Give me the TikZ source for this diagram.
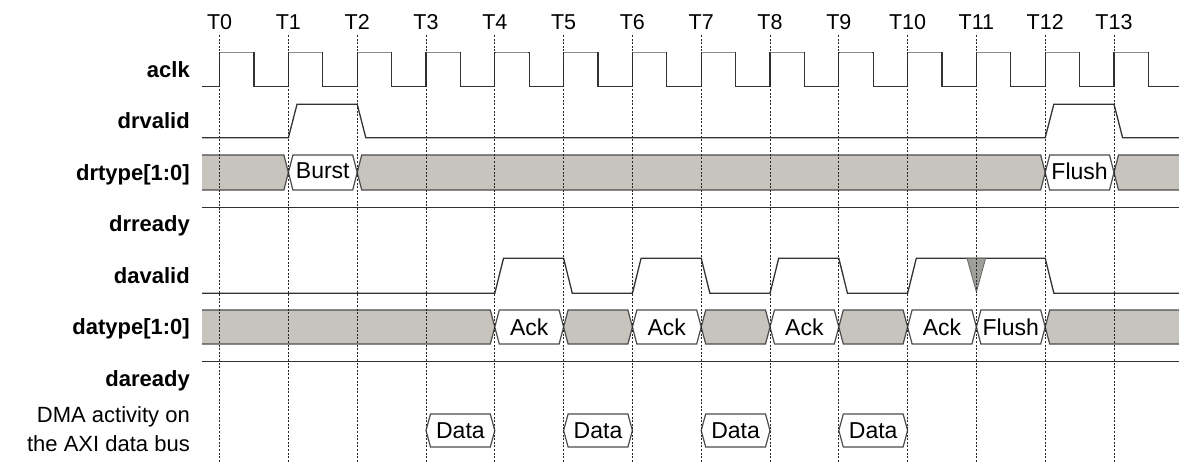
\documentclass[tikz,border=0pt]{standalone}
\usepackage{fontspec}
\setmainfont{Liberation Sans}
\definecolor{busgray}{RGB}{199,195,189}
\definecolor{trigray}{RGB}{160,158,154}
\newcommand\tdhex[5]{%
  \filldraw[busline,fill=#5] (#1,{(#3+#4)/2}) -- ({#1+4.5},#3) -- ({#2-4.5},#3) -- (#2,{(#3+#4)/2}) -- ({#2-4.5},#4) -- ({#1+4.5},#4) -- cycle;}
\newcommand\tdbusbegin[3]{%
  \fill[busgray] (202,#2) -- ({#1-4.5},#2) -- (#1,{(#2+#3)/2}) -- ({#1-4.5},#3) -- (202,#3) -- cycle;
  \draw[busline] (202,#2) -- ({#1-4.5},#2) -- (#1,{(#2+#3)/2}) -- ({#1-4.5},#3) -- (202,#3);}
\newcommand\tdbusfinish[3]{%
  \fill[busgray] (1179,#2) -- ({#1+4.5},#2) -- (#1,{(#2+#3)/2}) -- ({#1+4.5},#3) -- (1179,#3) -- cycle;
  \draw[busline] (1179,#2) -- ({#1+4.5},#2) -- (#1,{(#2+#3)/2}) -- ({#1+4.5},#3) -- (1179,#3);}
\begin{document}
\begin{tikzpicture}[x=1pt,y=-1pt,
  sig/.style={line width=1.3pt, draw=black!80, line join=miter},
  sighi/.style={line width=1.3pt, draw=black!45},
  busline/.style={line width=1.2pt, draw=black!70},
  tickline/.style={dash pattern=on 2pt off 1.6pt, line width=0.9pt, draw=black!85},
  lbl/.style={font=\fontsize{22}{26}\selectfont\bfseries, anchor=base east, inner sep=0pt},
  dmalbl/.style={font=\fontsize{22}{26}\selectfont, anchor=base east, inner sep=0pt},
  tlbl/.style={font=\fontsize{21.5}{26}\selectfont, anchor=base, inner sep=0pt},
  boxtxt/.style={font=\fontsize{23}{26}\selectfont, inner sep=0pt}]
\useasboundingbox (0,0) rectangle (1179,463);

% signal labels
\node[lbl] (laclk) at (190,77) {aclk};
\node[lbl] (ldrvalid) at (190,128.5) {drvalid};
\node[lbl] (ldrtype) at (190,180) {drtype[1:0]};
\node[lbl] (ldrready) at (190,231.5) {drready};
\node[lbl] (ldavalid) at (190,283) {davalid};
\node[lbl] (ldatype) at (190,334.5) {datype[1:0]};
\node[lbl] (ldaready) at (190,386) {daready};
\node[dmalbl] (ldma1) at (190,422.5) {DMA activity on};
\node[dmalbl] (ldma2) at (190,451.5) {the AXI data bus};

% clock
\draw[sig] (202,86.7) \foreach \k in {0,...,13} { -- ({219.6+68.8*\k},86.7) -- ({219.6+68.8*\k},52.3) -- ({254+68.8*\k},52.3) -- ({254+68.8*\k},86.7) } -- (1179,86.7);
\foreach \k in {0,...,13} \draw[sighi] ({220.4+68.8*\k},52.3) -- ({253.2+68.8*\k},52.3);

% drvalid
\draw[sig] (202,137.7) -- (288.4,137.7) -- (297,104.3) -- (357.2,104.3) -- (365.8,137.7) -- (1045.2,137.7) -- (1053.8,104.3) -- (1114,104.3) -- (1122.6,137.7) -- (1179,137.7);

% drtype bus
\tdbusbegin{288.4}{155}{190}
\tdhex{288.4}{357.2}{155}{190}{white}
\tdhex{357.2}{1045.2}{155}{190}{busgray}
\tdhex{1045.2}{1114}{155}{190}{white}
\tdbusfinish{1114}{155}{190}
\node[boxtxt] (burst) at (322.8,171) {Burst};
\node[boxtxt] (flushr) at (1079.6,171) {Flush};

% drready
\draw[sig] (202,207.7) -- (1179,207.7);

% davalid
\draw[sig] (202,293.3) -- (494.8,293.3) -- (503.5,258.3) -- (563.6,258.3) -- (572.3,293.3) -- (632.4,293.3) -- (641.1,258.3) -- (701.2,258.3) -- (709.9,293.3) -- (770,293.3) -- (778.7,258.3) -- (838.8,258.3) -- (847.5,293.3) -- (907.6,293.3) -- (916.3,258.3) -- (1045.2,258.3) -- (1053.9,293.3) -- (1179,293.3);
\filldraw[fill=trigray, draw=black!60, line width=0.8pt] (967,258.3) -- (985.6,258.3) -- (976.4,292) -- cycle;

% datype bus
\tdbusbegin{494.8}{310}{344}
\tdhex{494.8}{563.6}{310}{344}{white}
\tdhex{563.6}{632.4}{310}{344}{busgray}
\tdhex{632.4}{701.2}{310}{344}{white}
\tdhex{701.2}{770}{310}{344}{busgray}
\tdhex{770}{838.8}{310}{344}{white}
\tdhex{838.8}{907.6}{310}{344}{busgray}
\tdhex{907.6}{976.4}{310}{344}{white}
\tdhex{976.4}{1045.2}{310}{344}{white}
\tdbusfinish{1045.2}{310}{344}
\node[boxtxt] (ack1) at (529.2,327) {Ack};
\node[boxtxt] (ack2) at (666.8,327) {Ack};
\node[boxtxt] (ack3) at (804.4,327) {Ack};
\node[boxtxt] (ack4) at (942,327) {Ack};
\node[boxtxt] (flusha) at (1010.8,327) {Flush};

% daready
\draw[sig] (202,361.7) -- (1179,361.7);

% DMA data
\tdhex{426}{494.8}{414}{447}{white}
\tdhex{563.6}{632.4}{414}{447}{white}
\tdhex{701.2}{770}{414}{447}{white}
\tdhex{838.8}{907.6}{414}{447}{white}
\node[boxtxt] (data1) at (460.4,430.5) {Data};
\node[boxtxt] (data2) at (598,430.5) {Data};
\node[boxtxt] (data3) at (735.6,430.5) {Data};
\node[boxtxt] (data4) at (873.2,430.5) {Data};

% time markers
\foreach \k in {0,...,13} {
  \node[tlbl] (t\k) at ({219.6+68.8*\k},29) {T\k};
  \coordinate (b\k) at ({219.6+68.8*\k},463);
  \draw[tickline] ({219.6+68.8*\k},35) -- (b\k);
}
\end{tikzpicture}
\end{document}
